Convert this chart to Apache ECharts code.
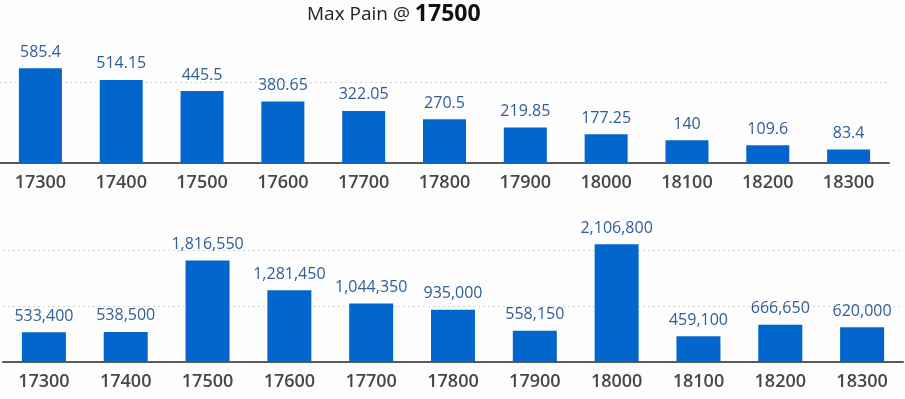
<!DOCTYPE html>
<html>
<head>
<meta charset="utf-8">
<script src="https://cdn.jsdelivr.net/npm/echarts@6/dist/echarts.min.js"></script>
<style>
  html, body { margin: 0; padding: 0; background: #fdfdfd; }
  #chart { width: 905px; height: 399px; }
</style>
</head>
<body>
<div id="chart"></div>
<script>
// strikes shared by both panels
const strikes = ['17300', '17400', '17500', '17600', '17700', '17800', '17900', '18000', '18100', '18200', '18300'];
// upper panel values
const premiums = [585.4, 514.15, 445.5, 380.65, 322.05, 270.5, 219.85, 177.25, 140, 109.6, 83.4];
// lower panel values
const openInterest = [533400, 538500, 1816550, 1281450, 1044350, 935000, 558150, 2106800, 459100, 666650, 620000];
const maxPainStrike = '17500';

const font = "'Open Sans', 'Noto Sans', sans-serif";
const barColor = '#0366cc';
const valueColor = '#2f5f96';

function xAxisFor (gridIndex) {
  return {
    type: 'category',
    gridIndex: gridIndex,
    data: strikes,
    axisTick: { show: false },
    axisLine: { lineStyle: { color: '#5a5a5a', width: 2 } },
    axisLabel: {
      color: '#474747',
      fontSize: 18,
      fontWeight: 600,
      fontFamily: font,
      margin: 11
    }
  };
}

function yAxisFor (gridIndex, max, interval) {
  return {
    type: 'value',
    gridIndex: gridIndex,
    min: 0,
    max: max,
    interval: interval,
    axisLabel: { show: false },
    axisLine: { show: false },
    axisTick: { show: false },
    splitLine: {
      showMaxLine: false,
      lineStyle: { color: '#d4d4d4', type: [2, 3] }
    }
  };
}

const chart = echarts.init(document.getElementById('chart'));
chart.setOption({
  backgroundColor: '#fdfdfd',
  animation: false,
  title: {
    text: '{a|Max Pain @ }{b|' + maxPainStrike + '}',
    left: 302,
    top: -2,
    textStyle: {
      fontWeight: 'normal',
      rich: {
        a: { fontSize: 19, fontWeight: 'normal', color: '#222', fontFamily: font },
        b: { fontSize: 23, fontWeight: 'bold', color: '#111', fontFamily: font }
      }
    }
  },
  grid: [
    { left: 0, width: 889, top: 66, height: 97 },
    { left: 3, width: 900, top: 239, height: 123 }
  ],
  xAxis: [xAxisFor(0), xAxisFor(1)],
  yAxis: [yAxisFor(0, 600, 500), yAxisFor(1, 2200000, 1000000)],
  series: [
    {
      type: 'bar',
      xAxisIndex: 0,
      yAxisIndex: 0,
      data: premiums,
      barWidth: 43,
      itemStyle: { color: barColor },
      label: {
        show: true,
        position: 'top',
        distance: 8,
        color: valueColor,
        fontSize: 16,
        fontFamily: font
      }
    },
    {
      type: 'bar',
      xAxisIndex: 1,
      yAxisIndex: 1,
      data: openInterest,
      barWidth: 44,
      itemStyle: { color: barColor },
      label: {
        show: true,
        position: 'top',
        distance: 8,
        color: valueColor,
        fontSize: 16,
        fontFamily: font,
        formatter: p => p.value.toLocaleString('en-US')
      }
    }
  ]
});
</script>
</body>
</html>
